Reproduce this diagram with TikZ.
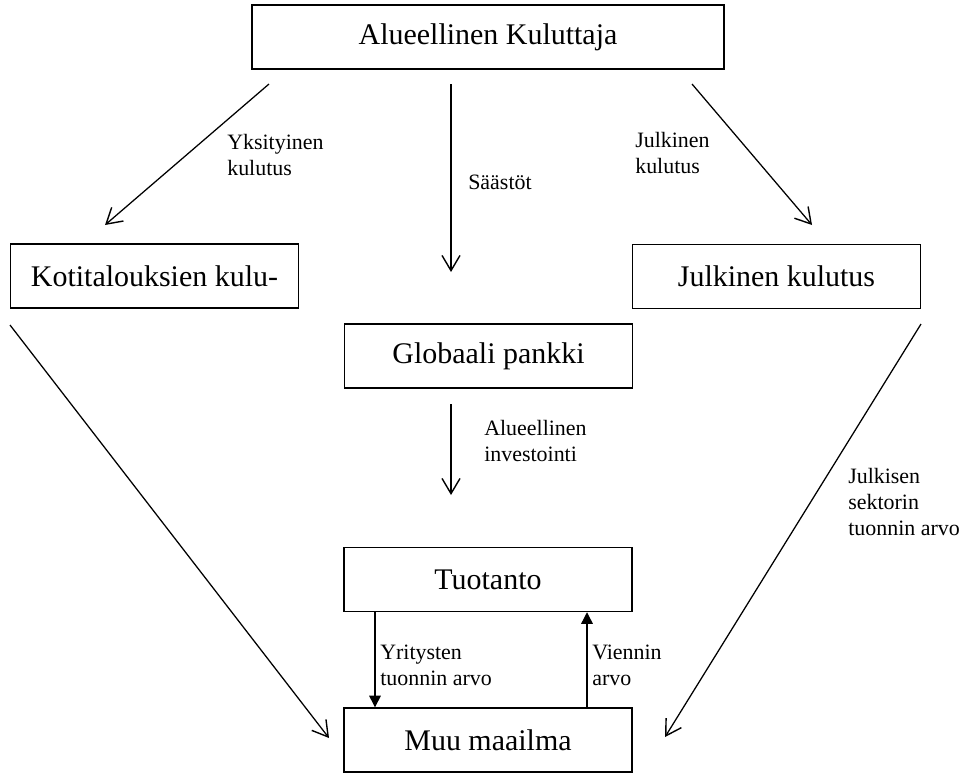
\documentclass[tikz,border=0pt]{standalone}
\usepackage{fontspec}
\setmainfont{Liberation Serif}
\usetikzlibrary{arrows.meta}
\tikzset{
  box/.style={rectangle, draw=black, line width=1pt, inner sep=0pt,
    minimum width=7.2cm, minimum height=1.6cm,
    font=\fontsize{21.3}{25}\selectfont},
  lbl/.style={anchor=west, align=left, inner sep=0pt,
    font=\fontsize{15.6}{18.5}\selectfont},
  openarrow/.style={-{Straight Barb[length=0.38cm, width=0.45cm, line width=1pt]}, line width=0.9pt},
  fillarrow/.style={-{Triangle[length=0.29cm, width=0.29cm]}, line width=0.9pt}
}
\begin{document}
\begin{tikzpicture}[x=0.025cm, y=-0.025cm]
  \useasboundingbox (0,0) rectangle (964,772);
  % Boxes
  \node[box, minimum width=11.8cm] (kul) at (488,37) {Alueellinen Kuluttaja};
  \node[box] (koti) at (154.5,276) {Kotitalouksien kulu-};
  \node[box] (julk) at (776.5,276.5) {Julkinen kulutus};
  \node[box] (pank) at (488.5,356) {Globaali pankki};
  \node[box] (tuo) at (488,579.5) {Tuotanto};
  \node[box] (muu) at (488,740) {Muu maailma};
  % Arrow end points
  \coordinate (ks1) at (269,84);   \coordinate (ke1) at (105,225);
  \coordinate (ss1) at (451,84);   \coordinate (se1) at (451,272);
  \coordinate (js1) at (692,84);   \coordinate (je1) at (812,225);
  \coordinate (ps1) at (451,404);  \coordinate (pe1) at (451,495);
  \coordinate (ks2) at (10,325);   \coordinate (ke2) at (329,738);
  \coordinate (js2) at (921,324);  \coordinate (je2) at (665,737);
  \coordinate (yx) at (375,0);
  \coordinate (vx) at (587,0);
  % Flows from the consumer
  \draw[openarrow] (ks1) -- (ke1);
  \draw[openarrow] (ss1) -- (se1);
  \draw[openarrow] (js1) -- (je1);
  \draw[openarrow] (ps1) -- (pe1);
  % Imports to the rest of the world
  \draw[openarrow] (ks2) -- (ke2);
  \draw[openarrow] (js2) -- (je2);
  % Production and rest of the world
  \draw[fillarrow] (tuo.south -| yx) -- (muu.north -| yx);
  \draw[fillarrow] (muu.north -| vx) -- (tuo.south -| vx);
  % Labels
  \node[lbl] (lyks) at (227,154.5) {Yksityinen\\kulutus};
  \node[lbl] (lsaa) at (468,182) {Säästöt};
  \node[lbl] (ljul) at (635,153) {Julkinen\\kulutus};
  \node[lbl] (linv) at (484,441) {Alueellinen\\investointi};
  \node[lbl] (lsek) at (848,501.5) {Julkisen\\sektorin\\tuonnin arvo};
  \node[lbl] (lyri) at (380,665) {Yritysten\\tuonnin arvo};
  \node[lbl] (lvie) at (592,665) {Viennin\\arvo};
\end{tikzpicture}
\end{document}
